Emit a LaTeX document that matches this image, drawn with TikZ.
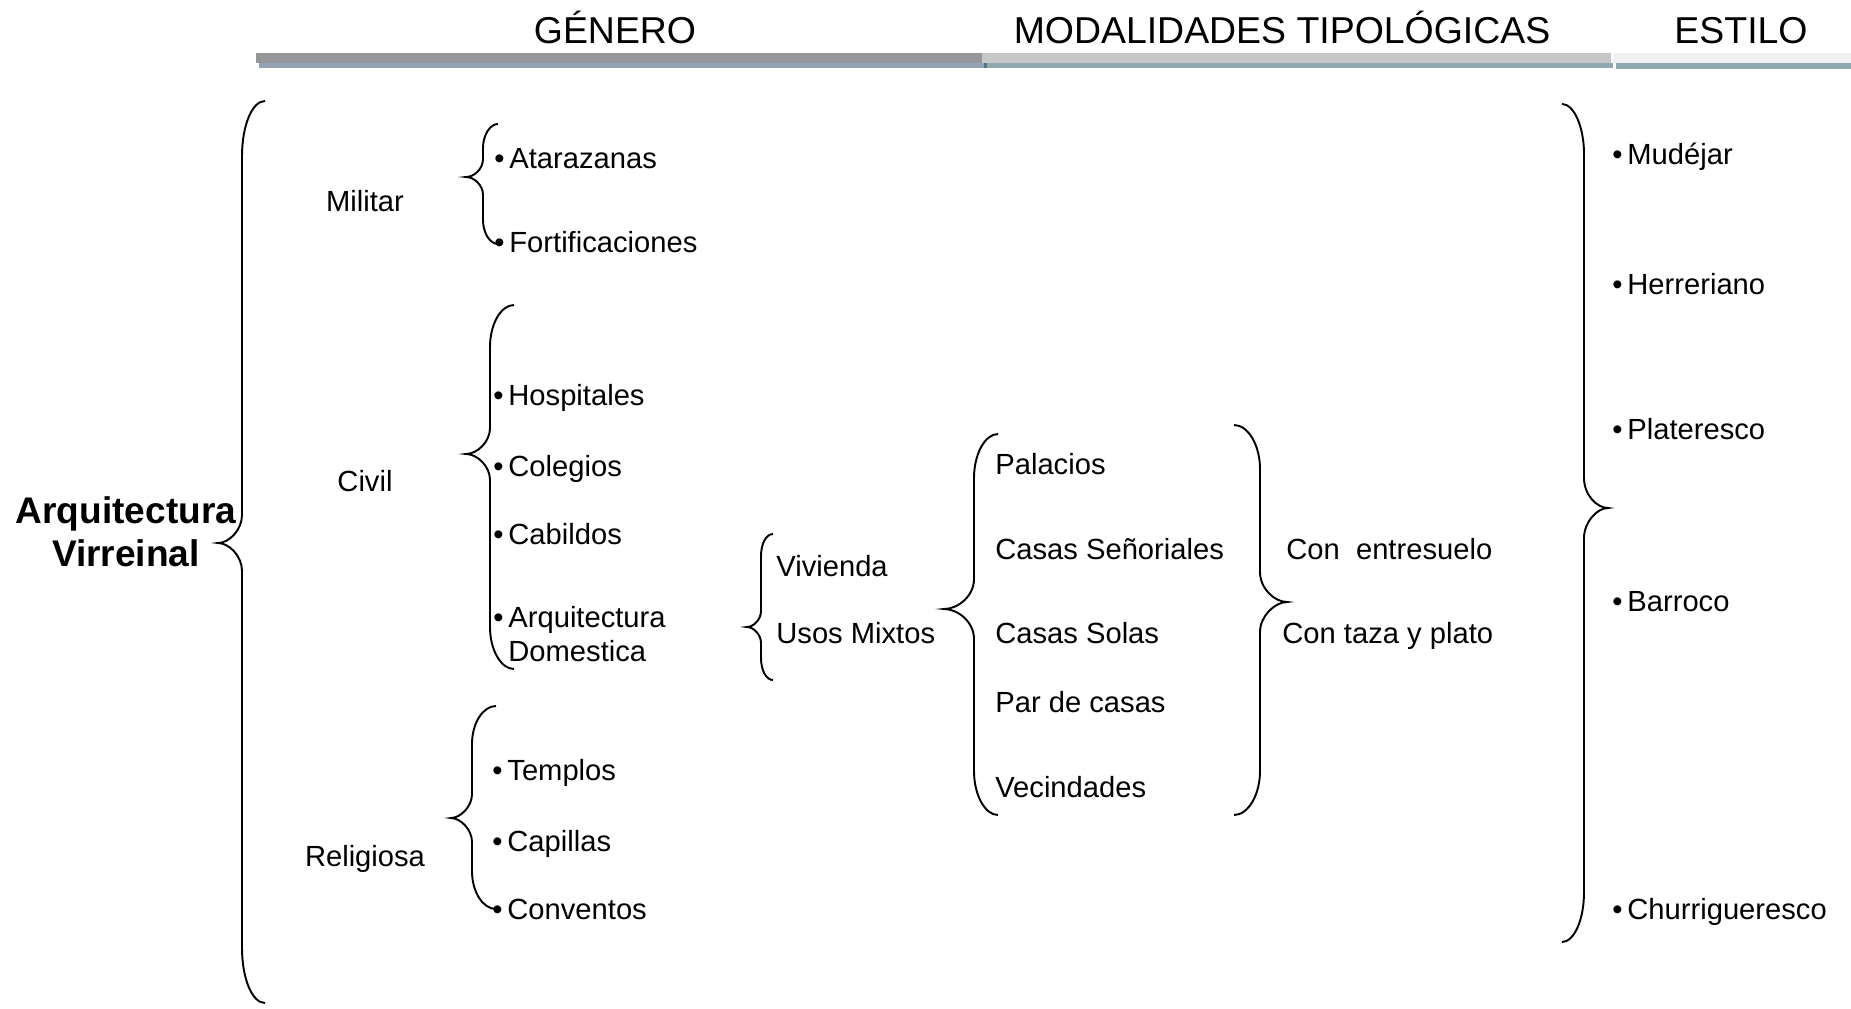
\documentclass[tikz,border=0pt]{standalone}
\usepackage{fontspec}
\setmainfont{Liberation Sans}
\definecolor{barragris}{HTML}{96979A}
\definecolor{barraazul}{HTML}{94A2B5}
\definecolor{barraclara}{HTML}{C6C7C9}
\definecolor{barrablanca}{HTML}{F0F1F3}
\definecolor{barraverde}{HTML}{8FAAAF}
\definecolor{barraoscura}{HTML}{4F7783}
\begin{document}
\begin{tikzpicture}[x=0.02cm,y=-0.02cm,
	cabecera/.style={inner sep=0pt,anchor=base,font=\fontsize{21.3}{24}\selectfont},
	titulo/.style={inner sep=0pt,anchor=base,align=center,font=\fontsize{21.1}{24.4}\selectfont\bfseries},
	genero/.style={inner sep=0pt,anchor=base,font=\fontsize{16.6}{19.3}\selectfont},
	item/.style={inner sep=0pt,anchor=base west,align=left,font=\fontsize{16.6}{19.3}\selectfont},
	llave/.style={line width=1.1pt}]
	\useasboundingbox (0,0) rectangle (1851,1008);
	%header bars
		\fill[barragris] (256,53) rectangle (982,62.7);
		\fill[barraazul] (259,62.7) rectangle (984,67.7);
		\fill[barraoscura] (984,62.7) rectangle (987,68);
		\fill[barraclara] (982,53) rectangle (1611,62.7);
		\fill[barraverde] (987,62.7) rectangle (1613,68);
		\fill[barrablanca] (1613,53) rectangle (1851,62.7);
		\fill[barraverde] (1616,62.7) rectangle (1851,69);
	%header labels
		\node[cabecera] (hgenero) at (615,43) {GÉNERO};
		\node[cabecera] (hmodal) at (1282,43) {MODALIDADES TIPOLÓGICAS};
		\node[cabecera] (hestilo) at (1741,43) {ESTILO};
	%main title
		\node[titulo] (arqvir) at (126,566) {Arquitectura\\Virreinal};
	%main brace
		\draw[llave] (265,101) .. controls (252,101) and (242,126) .. (242,156) -- (242,515)
			.. controls (242,530) and (229,543) .. (218,543)
			.. controls (229,543) and (242,556) .. (242,571) -- (242,948)
			.. controls (242,978) and (252,1003) .. (265,1003);
	%genero
		\node[genero] (militar) at (365,211) {Militar};
		\node[genero] (civil) at (365,491) {Civil};
		\node[genero] (religiosa) at (365,866) {Religiosa};
	%militar
		\draw[llave] (498,124) .. controls (490,124) and (483,135) .. (483,148) -- (483,159)
			.. controls (483,169) and (474,177) .. (466,177)
			.. controls (474,177) and (483,185) .. (483,195) -- (483,220)
			.. controls (483,233) and (490,244) .. (498,244);
		\node[item] (atarazanas) at (494,168) {•\,Atarazanas};
		\node[item] (fortif) at (494,252) {•\,Fortificaciones};
	%civil
		\draw[llave] (514,305) .. controls (501,305) and (490,324) .. (490,347) -- (490,428)
			.. controls (490,442) and (477,454) .. (466,454)
			.. controls (477,454) and (490,466) .. (490,480) -- (490,627)
			.. controls (490,650) and (501,669) .. (514,669);
		\node[item] (hospitales) at (493,405) {•\,Hospitales};
		\node[item] (colegios) at (493,476) {•\,Colegios};
		\node[item] (cabildos) at (493,544) {•\,Cabildos};
		\node[item] (arqdom) at (493,661) {•\,Arquitectura\\[-0.3pt]\phantom{•\,}Domestica};
	%religiosa
		\draw[llave] (496,706) .. controls (483,706) and (472,723) .. (472,744) -- (472,794)
			.. controls (472,807) and (460,818) .. (451,818)
			.. controls (460,818) and (472,829) .. (472,842) -- (472,871)
			.. controls (472,892) and (483,909) .. (496,909);
		\node[item] (templos) at (492,780) {•\,Templos};
		\node[item] (capillas) at (492,851) {•\,Capillas};
		\node[item] (conventos) at (492,919) {•\,Conventos};
	%arquitectura domestica
		\draw[llave] (773,534) .. controls (766,534) and (761,544) .. (761,556) -- (761,611)
			.. controls (761,620) and (753,627) .. (747,627)
			.. controls (753,627) and (761,634) .. (761,643) -- (761,658)
			.. controls (761,670) and (766,680) .. (773,680);
		\node[item] (vivienda) at (776,576) {Vivienda};
		\node[item] (usos) at (776,643) {Usos Mixtos};
	%modalidades
		\draw[llave] (998,434) .. controls (985,434) and (974,454) .. (974,478) -- (974,579)
			.. controls (974,596) and (958,609) .. (944,609)
			.. controls (958,609) and (974,622) .. (974,639) -- (974,771)
			.. controls (974,795) and (985,815) .. (998,815);
		\node[item] (palacios) at (995,474) {Palacios};
		\node[item] (senoriales) at (995,559) {Casas Señoriales};
		\node[item] (solas) at (995,643) {Casas Solas};
		\node[item] (pardecasas) at (995,712) {Par de casas};
		\node[item] (vecindades) at (995,797) {Vecindades};
		\draw[llave] (1234,425) .. controls (1248,425) and (1260,445) .. (1260,469) -- (1260,572)
			.. controls (1260,589) and (1275,602) .. (1287,602)
			.. controls (1275,602) and (1260,616) .. (1260,632) -- (1260,771)
			.. controls (1260,795) and (1248,815) .. (1234,815);
		\node[item] (entresuelo) at (1286,559) {Con\ \ entresuelo};
		\node[item] (tazaplato) at (1282,643) {Con taza y plato};
	%estilo
		\draw[llave] (1562,104) .. controls (1574,104) and (1584,127) .. (1584,154) -- (1584,478)
			.. controls (1584,495) and (1597,508) .. (1608,508)
			.. controls (1597,508) and (1584,522) .. (1584,538) -- (1584,892)
			.. controls (1584,920) and (1574,942) .. (1562,942);
		\node[item] (mudejar) at (1612,164) {•\,Mudéjar};
		\node[item] (herreriano) at (1612,294) {•\,Herreriano};
		\node[item] (plateresco) at (1612,439) {•\,Plateresco};
		\node[item] (barroco) at (1612,611) {•\,Barroco};
		\node[item] (churri) at (1612,919) {•\,Churrigueresco};
\end{tikzpicture}
\end{document}
